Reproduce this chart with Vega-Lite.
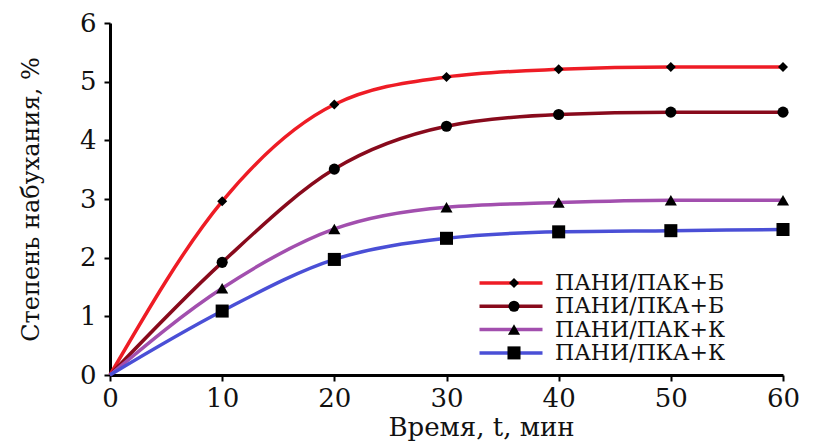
{
  "$schema": "https://vega.github.io/schema/vega-lite/v6.json",
  "width": 673,
  "height": 352,
  "autosize": {"type": "none"},
  "padding": {"left": 110, "top": 23, "right": 30, "bottom": 66},
  "background": "white",
  "config": {
    "font": "DejaVu Serif",
    "view": {"stroke": null},
    "axis": {
      "grid": false,
      "domainColor": "#000",
      "domainWidth": 3,
      "tickColor": "#000",
      "tickWidth": 2,
      "tickSize": 6,
      "labelFont": "DejaVu Serif",
      "labelFontSize": 26,
      "labelColor": "#111",
      "titleFont": "DejaVu Serif",
      "titleFontWeight": "normal",
      "titleColor": "#111"
    },
    "legend": {
      "labelFont": "DejaVu Serif",
      "labelLimit": 400
    }
  },
  "data": {
    "values": [
      {"t": 0, "v": 0, "s": "ПАНИ/ПАК+Б"},
      {"t": 10, "v": 2.96, "s": "ПАНИ/ПАК+Б"},
      {"t": 20, "v": 4.61, "s": "ПАНИ/ПАК+Б"},
      {"t": 30, "v": 5.08, "s": "ПАНИ/ПАК+Б"},
      {"t": 40, "v": 5.21, "s": "ПАНИ/ПАК+Б"},
      {"t": 50, "v": 5.25, "s": "ПАНИ/ПАК+Б"},
      {"t": 60, "v": 5.25, "s": "ПАНИ/ПАК+Б"},
      {"t": 0, "v": 0, "s": "ПАНИ/ПКА+Б"},
      {"t": 10, "v": 1.92, "s": "ПАНИ/ПКА+Б"},
      {"t": 20, "v": 3.51, "s": "ПАНИ/ПКА+Б"},
      {"t": 30, "v": 4.24, "s": "ПАНИ/ПКА+Б"},
      {"t": 40, "v": 4.44, "s": "ПАНИ/ПКА+Б"},
      {"t": 50, "v": 4.48, "s": "ПАНИ/ПКА+Б"},
      {"t": 60, "v": 4.48, "s": "ПАНИ/ПКА+Б"},
      {"t": 0, "v": 0, "s": "ПАНИ/ПАК+К"},
      {"t": 10, "v": 1.48, "s": "ПАНИ/ПАК+К"},
      {"t": 20, "v": 2.49, "s": "ПАНИ/ПАК+К"},
      {"t": 30, "v": 2.86, "s": "ПАНИ/ПАК+К"},
      {"t": 40, "v": 2.94, "s": "ПАНИ/ПАК+К"},
      {"t": 50, "v": 2.98, "s": "ПАНИ/ПАК+К"},
      {"t": 60, "v": 2.98, "s": "ПАНИ/ПАК+К"},
      {"t": 0, "v": 0, "s": "ПАНИ/ПКА+К"},
      {"t": 10, "v": 1.09, "s": "ПАНИ/ПКА+К"},
      {"t": 20, "v": 1.97, "s": "ПАНИ/ПКА+К"},
      {"t": 30, "v": 2.33, "s": "ПАНИ/ПКА+К"},
      {"t": 40, "v": 2.44, "s": "ПАНИ/ПКА+К"},
      {"t": 50, "v": 2.46, "s": "ПАНИ/ПКА+К"},
      {"t": 60, "v": 2.48, "s": "ПАНИ/ПКА+К"}
    ]
  },
  "encoding": {
    "x": {
      "field": "t",
      "type": "quantitative",
      "scale": {"domain": [0, 60], "nice": false},
      "axis": {
        "values": [0, 10, 20, 30, 40, 50, 60],
        "title": "Время, t, мин",
        "titleFontSize": 26,
        "titlePadding": 3,
        "labelPadding": 4,
        "titleX": 371,
        "labelFlush": false
      }
    },
    "y": {
      "field": "v",
      "type": "quantitative",
      "scale": {"domain": [0, 6], "nice": false},
      "axis": {
        "values": [0, 1, 2, 3, 4, 5, 6],
        "title": "Степень набухания, %",
        "titleFontSize": 24,
        "titlePadding": 36,
        "labelPadding": 8
      }
    }
  },
  "layer": [
    {
      "mark": {"type": "line", "interpolate": "monotone", "strokeWidth": 3.5},
      "encoding": {
        "color": {
          "field": "s",
          "type": "nominal",
          "scale": {
            "domain": ["ПАНИ/ПАК+Б", "ПАНИ/ПКА+Б", "ПАНИ/ПАК+К", "ПАНИ/ПКА+К"],
            "range": ["#ee1c25", "#880a1c", "#a24fae", "#4a4fd6"]
          },
          "legend": {
            "orient": "none",
            "legendX": 390,
            "legendY": 249,
            "title": null,
            "symbolType": "M-3.5,0H3.5",
            "symbolSize": 324,
            "symbolStrokeWidth": 3.5,
            "labelFontSize": 22,
            "labelColor": "#111",
            "labelOffset": 33,
            "labelLimit": 400,
            "rowPadding": 1.3,
            "padding": 0
          }
        }
      }
    },
    {
      "transform": [{"filter": "datum.t > 0"}],
      "mark": {"type": "point", "filled": true, "color": "#000", "opacity": 1},
      "encoding": {
        "shape": {
          "field": "s",
          "type": "nominal",
          "sort": null,
          "scale": {"range": ["diamond", "circle", "triangle-up", "square"]},
          "legend": {
            "orient": "none",
            "legendX": 393,
            "legendY": 249,
            "title": null,
            "labelExpr": "''",
            "labelFontSize": 22,
            "rowPadding": 1.3,
            "padding": 0,
            "symbolFillColor": "#000",
            "symbolStrokeColor": "#000",
            "symbolOpacity": 1
          }
        },
        "size": {
          "field": "s",
          "type": "nominal",
          "sort": null,
          "scale": {"range": [100, 170, 180, 130]},
          "legend": {
            "orient": "none",
            "legendX": 393,
            "legendY": 249,
            "title": null,
            "labelExpr": "''",
            "labelFontSize": 22,
            "rowPadding": 1.3,
            "padding": 0,
            "symbolFillColor": "#000",
            "symbolStrokeColor": "#000",
            "symbolOpacity": 1
          }
        }
      }
    }
  ]
}
